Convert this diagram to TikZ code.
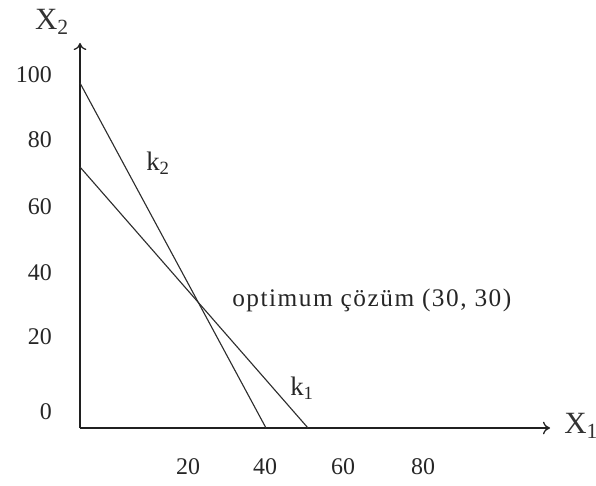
\documentclass[tikz,border=0pt]{standalone}
\usepackage{fontspec}
\setmainfont{Liberation Serif}
\usetikzlibrary{arrows.meta}
\tikzset{
  axis/.style={
    line width=0.9pt,
    -{To[length=5pt,width=9pt]},
    draw=gray!25!black
  },
  constraint/.style={
    line width=0.8pt,
    draw=gray!35!black
  },
  ticklabel/.style={
    inner sep=0pt,
    text=gray!30!black,
    font=\fontsize{17}{20}\selectfont
  },
  axislabel/.style={
    inner sep=0pt,
    text=gray!40!black,
    font=\fontsize{22}{24}\selectfont
  },
  linelabel/.style={
    inner sep=0pt,
    text=gray!30!black,
    font=\fontsize{19}{22}\selectfont
  }
}

\begin{document}
\begin{tikzpicture}[x=0.025cm,y=-0.025cm]
  \useasboundingbox (0,0) rectangle (596,485);
  % axes
  \coordinate (o) at (80,428);
  \coordinate (xend) at (550,428);
  \coordinate (yend) at (80,43);
  \draw[axis] (o) -- (xend);
  \draw[axis] (o) -- (yend);
  \node[axislabel,anchor=west] (x1) at (564,426) {X\textsubscript{1}};
  \node[axislabel] (x2) at (52,22) {X\textsubscript{2}};
  \foreach \v/\y in {100/75,80/140,60/207,40/273,20/337,0/412}{
      \node[ticklabel,anchor=east] (ty\v) at (52,\y) {\v};
  }
  \foreach \v/\x in {20/188,40/265,60/343,80/423}{
      \node[ticklabel] (tx\v) at (\x,467) {\v};
  }
  % constraints
  \coordinate (k2a) at (80,83);
  \coordinate (k2b) at (266,428);
  \coordinate (k1a) at (80,167);
  \coordinate (k1b) at (308,428);
  \draw[constraint] (k2a) -- (k2b);
  \draw[constraint] (k1a) -- (k1b);
  \node[linelabel] (k2) at (158,163) {k\textsubscript{2}};
  \node[linelabel] (k1) at (302,388) {k\textsubscript{1}};
  \node[ticklabel,anchor=west,font=\fontsize{18}{20}\selectfont\addfontfeature{LetterSpace=6}] (opt) at (232,300) {optimum çözüm (30, 30)};
\end{tikzpicture}
\end{document}
